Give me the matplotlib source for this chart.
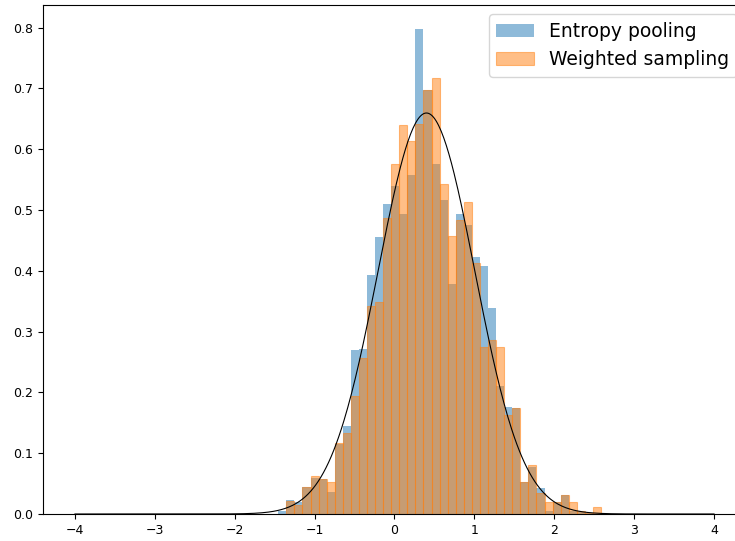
import numpy as np
import matplotlib
matplotlib.use("Agg")
from matplotlib import pyplot as plt

# histogram bins (shared by both series)
bin_start = -1.455
bin_width = 0.101
n_bins = 40

entropy_pooling = [0.005, 0.023, 0.020, 0.044, 0.060, 0.058, 0.036, 0.115, 0.145, 0.269,
                   0.271, 0.393, 0.456, 0.510, 0.539, 0.493, 0.557, 0.797, 0.697, 0.576,
                   0.516, 0.378, 0.493, 0.475, 0.422, 0.407, 0.338, 0.210, 0.176, 0.175,
                   0.052, 0.078, 0.042, 0.005, 0.020, 0.031, 0.005, 0.003, 0.002, 0.0]
weighted_sampling = [0.0, 0.021, 0.015, 0.044, 0.062, 0.058, 0.053, 0.117, 0.134, 0.194,
                     0.257, 0.342, 0.349, 0.487, 0.576, 0.639, 0.613, 0.641, 0.697, 0.717,
                     0.543, 0.457, 0.484, 0.513, 0.412, 0.274, 0.286, 0.274, 0.162, 0.175,
                     0.052, 0.081, 0.034, 0.020, 0.020, 0.031, 0.020, 0.005, 0.002, 0.012]

# fitted normal density
mu = 0.40
sigma = 0.605
curve_range = (-4, 4)

edges = bin_start + bin_width * np.arange(n_bins + 1)
centers = (edges[:-1] + edges[1:]) / 2

fig = plt.figure(figsize=(7.35, 5.41), dpi=100)
ax = fig.add_axes([43 / 735, 27 / 541, 703 / 735, 509 / 541])

ax.hist(centers, bins=edges, weights=entropy_pooling, color='C0', alpha=0.5,
        label='Entropy pooling')
ax.hist(centers, bins=edges, weights=weighted_sampling, color='C1', alpha=0.5,
        edgecolor='C1', linewidth=0.8, label='Weighted sampling')

xs = np.linspace(curve_range[0], curve_range[1], 500)
pdf = np.exp(-0.5 * ((xs - mu) / sigma) ** 2) / (sigma * np.sqrt(2 * np.pi))
ax.plot(xs, pdf, color='black', linewidth=0.8)

ax.set_xlim(-4.4, 4.4)
ax.set_ylim(0, 0.837)
ax.tick_params(labelsize=9)
ax.legend(loc='upper right', fontsize=13.5)

fig.savefig('out.png', dpi=100)
